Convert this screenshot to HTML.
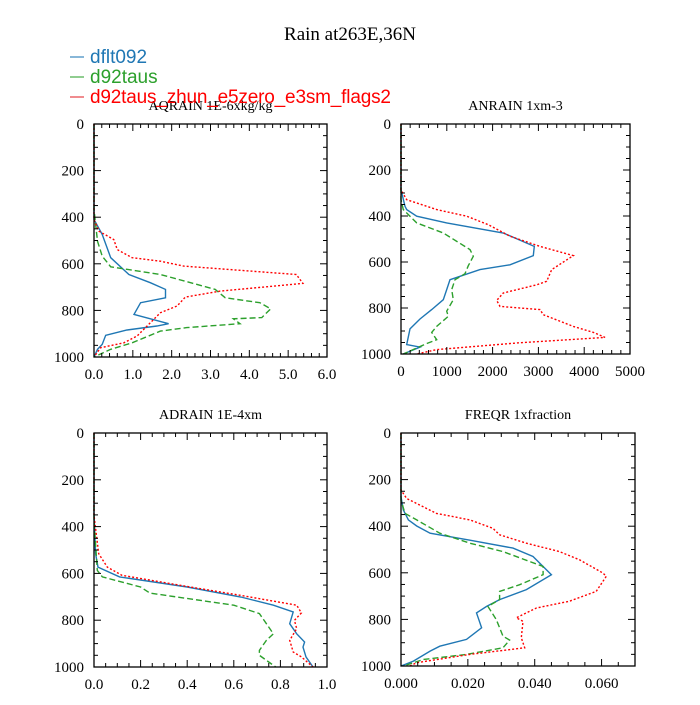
<!DOCTYPE html>
<html><head><meta charset="utf-8"><style>
body{margin:0;background:#fff;width:700px;height:700px;overflow:hidden}
svg text{font-family:"Liberation Serif",serif}
</style></head><body>
<svg id="fig" width="700" height="700" xmlns="http://www.w3.org/2000/svg">
<text x="350" y="40" text-anchor="middle" font-size="19">Rain at263E,36N</text>
<g id="panels"></g>
<g font-size="19">
<line x1="70" y1="57" x2="84" y2="57" stroke="#1f77b4" stroke-width="1.5" opacity="0.7"/>
<text x="90" y="63" fill="#1f77b4" style="font-family:'Liberation Sans',sans-serif">dflt092</text>
<line x1="70" y1="77" x2="84" y2="77" stroke="#2ca02c" stroke-width="1.5" opacity="0.7"/>
<text x="90" y="83" fill="#2ca02c" style="font-family:'Liberation Sans',sans-serif">d92taus</text>
<line x1="70" y1="97" x2="84" y2="97" stroke="#e3242b" stroke-width="1.5" opacity="0.7"/>
<text x="90" y="103" fill="#ff0000" textLength="301" style="font-family:'Liberation Sans',sans-serif">d92taus_zhun_e5zero_e3sm_flags2</text>
</g>
</svg>
<script>
// AQRAIN
const aqBlueP=[0,410,474,574,646,681,710,746,767,817,857,867,884,907,946,967,1000];
const aqBlueX=[0,0,0.21,0.43,0.90,1.45,1.84,1.84,1.20,1.03,1.92,1.62,0.85,0.30,0.21,0.09,0];
const aqGreenP=[0,367,503,567,613,646,710,746,767,793,831,836,857,874,889,939,967,1000];
const aqGreenX=[0,0,0.09,0.21,0.43,1.71,3.12,3.38,4.27,4.55,4.32,3.59,3.76,2.39,1.71,0.98,0.43,0];
const aqRedP=[0,410,460,496,539,574,589,610,646,684,717,743,781,810,910,939,960,1000];
const aqRedX=[0,0,0.13,0.51,0.60,0.98,1.71,2.31,5.21,5.38,3.25,2.35,2.14,1.71,1.11,0.77,0.17,0];
// ANRAIN
const anBlueP=[0,286,358,372,401,430,474,532,572,612,633,677,720,764,807,848,891,959,970,1000];
const anBlueX=[0,0,87,124,342,997,2234,2911,2889,2380,1725,1070,997,924,670,415,197,124,415,51];
const anGreenP=[0,329,372,430,474,546,575,616,651,677,720,764,814,836,880,906,938,955,1000];
const anGreenX=[0,0,51,342,924,1506,1579,1470,1397,1179,1106,1143,997,1033,779,670,779,560,51];
const anRedP=[0,286,329,372,401,438,488,532,572,633,684,699,735,767,793,807,829,880,906,928,952,981,1000];
const anRedX=[0,0,124,779,1434,1907,2380,3035,3763,3290,3181,2963,2234,2089,2161,3035,3108,3763,4200,4454,2525,779,342];
// ADRAIN
const adBlueP=[0,345,516,573,615,658,701,736,765,815,858,893,915,957,1000];
const adBlueX=[0,0,0.007,0.017,0.11,0.40,0.63,0.77,0.855,0.84,0.87,0.904,0.897,0.91,0.94];
const adGreenP=[0,373,587,615,658,684,736,772,858,886,929,950,1000];
const adGreenX=[0,0,0.014,0.036,0.20,0.24,0.60,0.71,0.77,0.74,0.71,0.71,0.78];
const adRedP=[0,352,516,573,608,651,694,736,769,801,836,886,936,957,1000];
const adRedX=[0,0,0.02,0.057,0.12,0.37,0.63,0.87,0.89,0.86,0.87,0.84,0.855,0.89,0.94];
// FREQR
const frBlueP=[0,274,330,373,399,430,460,494,530,573,608,672,715,744,772,793,836,886,915,936,979,1000];
const frBlueX=[0,0,0.0007,0.0022,0.0047,0.0087,0.0206,0.0335,0.0395,0.0425,0.045,0.0375,0.0295,0.0256,0.0226,0.0231,0.0241,0.0196,0.0116,0.0087,0.0037,0];
const frGreenP=[0,288,345,373,430,473,509,573,608,651,680,715,744,801,872,889,922,950,972,1000];
const frGreenX=[0,0,0.0012,0.0047,0.0116,0.0206,0.0305,0.0425,0.0425,0.0355,0.0295,0.0295,0.026,0.0285,0.0305,0.0325,0.0305,0.0196,0.0067,0.0007];
const frRedP=[0,245,281,345,373,409,437,473,509,544,601,615,680,722,751,793,808,879,922,950,986,1000];
const frRedX=[0,0,0.0017,0.0106,0.0206,0.0275,0.0295,0.0375,0.0474,0.0534,0.0604,0.0614,0.0584,0.0504,0.0405,0.0345,0.0365,0.036,0.037,0.0206,0.0047,0.0027];
const yTicks=[0,200,400,600,800,1000];
const aqTicks=["0.0","1.0","2.0","3.0","4.0","5.0","6.0"];
const anTicks=["0","1000","2000","3000","4000","5000"];
const adTicks=["0.0","0.2","0.4","0.6","0.8","1.0"];
const frTicks=["0.000","0.020","0.040","0.060"];

const NS="http://www.w3.org/2000/svg";
const root=document.getElementById('panels');
function mk(tag,attrs,parent){const e=document.createElementNS(NS,tag);for(const k in attrs)e.setAttribute(k,attrs[k]);parent.appendChild(e);return e;}
const panels=[
 {name:'aqrain',title:'AQRAIN  1E-6xkg/kg',x0:94,x1:327,y0:124,y1:357,xmax:6,major:1,minor:0.2,ticks:aqTicks,
  s:[[aqBlueX,aqBlueP],[aqGreenX,aqGreenP],[aqRedX,aqRedP]]},
 {name:'anrain',title:'ANRAIN  1xm-3',x0:401,x1:630,y0:124,y1:354,xmax:5000,major:1000,minor:200,ticks:anTicks,
  s:[[anBlueX,anBlueP],[anGreenX,anGreenP],[anRedX,anRedP]]},
 {name:'adrain',title:'ADRAIN  1E-4xm',x0:94,x1:327,y0:433,y1:667,xmax:1,major:0.2,minor:0.05,ticks:adTicks,
  s:[[adBlueX,adBlueP],[adGreenX,adGreenP],[adRedX,adRedP]]},
 {name:'freqr',title:'FREQR  1xfraction',x0:401,x1:635,y0:433,y1:666,xmax:0.07,major:0.02,minor:0.005,ticks:frTicks,
  s:[[frBlueX,frBlueP],[frGreenX,frGreenP],[frRedX,frRedP]]}
];
const styles=[{c:'#1f77b4',d:''},{c:'#2ca02c',d:'6,3'},{c:'#ff0000',d:'2,2'}];
const snames=['dflt092','d92taus','zhun'];
panels.forEach(p=>{
 const g=mk('g',{},root);
 
 
 const sx=v=>p.x0+v/p.xmax*(p.x1-p.x0);
 const sy=v=>p.y0+v/1000*(p.y1-p.y0);
 const t=mk('text',{x:(p.x0+p.x1)/2,y:p.y0-14,'text-anchor':'middle','font-size':14},g);t.textContent=p.title;
 
 
 p.s.forEach((sr,i)=>{
  const pts=sr[0].map((x,k)=>sx(x).toFixed(1)+','+sy(sr[1][k]).toFixed(1)).join(' ');
  const pl=mk('polyline',{points:pts,fill:'none',stroke:styles[i].c,'stroke-width':1.4},g);
  if(styles[i].d)pl.setAttribute('stroke-dasharray',styles[i].d);
  
  
 });
 const ax=mk('g',{stroke:'#000','stroke-width':1},g);
 
 
 mk('rect',{x:p.x0,y:p.y0,width:p.x1-p.x0,height:p.y1-p.y0,fill:'none','stroke-width':1.3},ax);
 for(let v=0;v<=1000;v+=50){const maj=v%200===0;const L=maj?7:4;const y=sy(v);
  mk('line',{x1:p.x0,y1:y,x2:p.x0+L,y2:y},ax);mk('line',{x1:p.x1,y1:y,x2:p.x1-L,y2:y},ax);}
 yTicks.forEach(v=>{const tt=mk('text',{x:p.x0-10,y:sy(v)+5,'text-anchor':'end','font-size':15},g);tt.textContent=v;
  
  });
 const n=Math.round(p.xmax/p.minor);const r=Math.round(p.major/p.minor);
 for(let k=0;k<=n;k++){const x=sx(k*p.minor);const L=k%r===0?7:4;
  mk('line',{x1:x,y1:p.y1,x2:x,y2:p.y1-L},ax);mk('line',{x1:x,y1:p.y0,x2:x,y2:p.y0+L},ax);}
 p.ticks.forEach((lab,k)=>{const tt=mk('text',{x:sx(k*p.major),y:p.y1+22,'text-anchor':'middle','font-size':15},g);tt.textContent=lab;
  
  });
});
</script>
</body></html>
